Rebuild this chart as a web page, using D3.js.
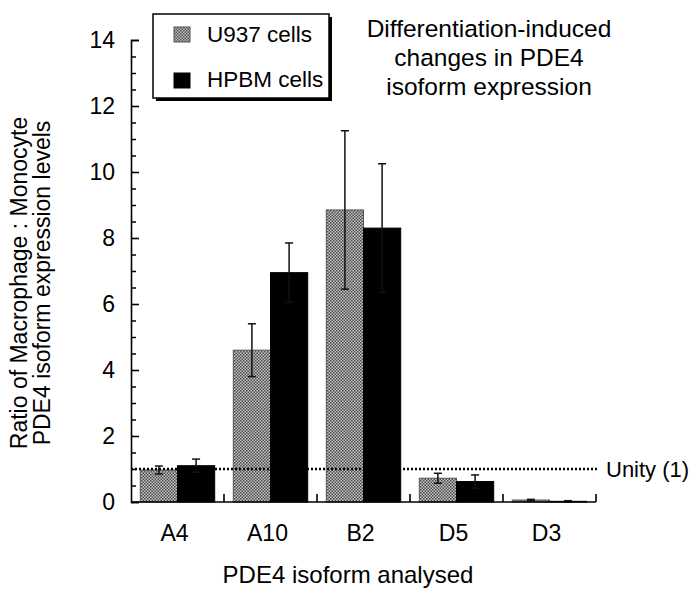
<!DOCTYPE html>
<html>
<head>
<meta charset="utf-8">
<script src="https://cdn.jsdelivr.net/npm/d3@7"></script>
<style>
  html, body { margin: 0; padding: 0; background: #fff; }
  svg { display: block; font-family: "Liberation Sans", Arial, Helvetica, sans-serif; }
</style>
</head>
<body>
<svg id="chart" width="689" height="590"></svg>
<script>
const categories = ["A4", "A10", "B2", "D5", "D3"];
const seriesNames = ["U937 cells", "HPBM cells"];
const u937 = [0.97, 4.6, 8.85, 0.72, 0.06];
const u937Err = [0.12, 0.8, 2.4, 0.15, 0.02];
const hpbm = [1.1, 6.95, 8.3, 0.62, 0.02];
const hpbmErr = [0.2, 0.9, 1.95, 0.2, 0.02];
const yTicks = [0, 2, 4, 6, 8, 10, 12, 14];
const yMinorTicks = [0.5, 1, 1.5, 2.5, 3, 3.5, 4.5, 5, 5.5, 6.5, 7, 7.5, 8.5, 9, 9.5, 10.5, 11, 11.5, 12.5, 13, 13.5];
const unityValue = 1;
const titleLines = ["Differentiation-induced", "changes in PDE4", "isoform expression"];
const yTitleLines = ["Ratio of Macrophage : Monocyte", "PDE4 isoform expression levels"];
const xTitle = "PDE4 isoform analysed";
const unityLabel = "Unity (1)";

const svg = d3.select("#chart");
const defs = svg.append("defs");
const pat = defs.append("pattern").attr("id", "stipple").attr("patternUnits", "userSpaceOnUse")
  .attr("width", 3).attr("height", 3);
pat.append("rect").attr("width", 3).attr("height", 3).attr("fill", "#c4c4c4");
pat.append("rect").attr("x", 0).attr("y", 0).attr("width", 1.5).attr("height", 1.5).attr("fill", "#4a4a4a");
pat.append("rect").attr("x", 1.5).attr("y", 1.5).attr("width", 1.5).attr("height", 1.5).attr("fill", "#4a4a4a");

const x0 = 131, x1 = 596, yTop = 40, yBase = 502;
const x = d3.scaleBand().domain(categories).range([x0, x1]).paddingInner(0.2).paddingOuter(0.1);
const xs = d3.scaleBand().domain(seriesNames).range([0, x.bandwidth()]);
const y = d3.scaleLinear().domain([0, 14]).range([yBase, yTop]);

const data = [];
categories.forEach((c, i) => {
  data.push({cat: c, s: seriesNames[0], v: u937[i], e: u937Err[i]});
  data.push({cat: c, s: seriesNames[1], v: hpbm[i], e: hpbmErr[i]});
});
const fillOf = s => s === seriesNames[0] ? "url(#stipple)" : "#000";

// bars
svg.append("g").selectAll("rect").data(data).join("rect")
  .attr("x", d => x(d.cat) + xs(d.s))
  .attr("y", d => y(d.v))
  .attr("width", xs.bandwidth())
  .attr("height", d => y(0) - y(d.v))
  .attr("fill", d => fillOf(d.s))
  .attr("stroke", d => d.s === seriesNames[0] ? "#555" : "#000")
  .attr("stroke-width", 1);

// error bars
const eb = svg.append("g").attr("stroke", "#111").attr("stroke-width", 1.5);
data.forEach(d => {
  const cx = x(d.cat) + xs(d.s) + xs.bandwidth() / 2;
  eb.append("line").attr("x1", cx).attr("x2", cx).attr("y1", y(d.v + d.e)).attr("y2", y(Math.max(0, d.v - d.e)));
  eb.append("line").attr("x1", cx - 4).attr("x2", cx + 4).attr("y1", y(d.v + d.e)).attr("y2", y(d.v + d.e));
  eb.append("line").attr("x1", cx - 4).attr("x2", cx + 4).attr("y1", y(Math.max(0, d.v - d.e))).attr("y2", y(Math.max(0, d.v - d.e)));
});

// unity line
svg.append("line").attr("x1", x0).attr("x2", x1 + 3).attr("y1", y(unityValue)).attr("y2", y(unityValue))
  .attr("stroke", "#000").attr("stroke-width", 2.5).attr("stroke-dasharray", "2,2");
svg.append("text").attr("x", 606).attr("y", y(unityValue)).attr("dy", "0.36em")
  .attr("font-size", 22).text(unityLabel);

// y axis
const yAxis = svg.append("g").attr("transform", `translate(${x0},0)`)
  .call(d3.axisLeft(y).tickValues(yTicks).tickSize(-8).tickSizeOuter(-8).tickPadding(16).tickFormat(d3.format("d")));
yAxis.selectAll("text").attr("font-size", 23).attr("fill", "#000").attr("font-family", "Liberation Sans, Arial, sans-serif");
yAxis.selectAll("path, line").attr("stroke", "#000").attr("stroke-width", 1.6);
const yMinor = svg.append("g").attr("transform", `translate(${x0},0)`)
  .call(d3.axisLeft(y).tickValues(yMinorTicks).tickSize(-5).tickFormat(""));
yMinor.select(".domain").remove();
yMinor.selectAll("line").attr("stroke", "#000").attr("stroke-width", 1.5);

// x axis
const xAxis = svg.append("g").attr("transform", `translate(0,${yBase})`)
  .call(d3.axisBottom(x).tickSize(0).tickPadding(23));
xAxis.select(".domain").remove();
xAxis.selectAll("text").attr("font-size", 23).attr("fill", "#000").attr("dx", -3).attr("font-family", "Liberation Sans, Arial, sans-serif");
svg.append("line").attr("x1", x0).attr("x2", x1).attr("y1", yBase).attr("y2", yBase).attr("stroke", "#000").attr("stroke-width", 1.6);
const boundaries = categories.slice(1).map(c => x(c) - x.step() * x.paddingInner() / 2).concat([x1]);
svg.append("g").selectAll("line").data(boundaries).join("line")
  .attr("x1", d => d).attr("x2", d => d).attr("y1", yBase).attr("y2", yBase - 8)
  .attr("stroke", "#000").attr("stroke-width", 1.6);

// titles
svg.append("text").attr("x", 348).attr("y", 583).attr("text-anchor", "middle").attr("font-size", 24).text(xTitle);
const yt = svg.append("g").attr("transform", "translate(0,283) rotate(-90)");
yTitleLines.forEach((t, i) => {
  yt.append("text").attr("x", 0).attr("y", 27 + i * 23).attr("text-anchor", "middle").attr("font-size", 23).text(t);
});
titleLines.forEach((t, i) => {
  svg.append("text").attr("x", 489).attr("y", 37 + i * 29).attr("text-anchor", "middle").attr("font-size", 24.5).text(t);
});

// legend
const lg = svg.append("g");
lg.append("rect").attr("x", 156).attr("y", 17).attr("width", 176).attr("height", 84).attr("fill", "#000");
lg.append("rect").attr("x", 153).attr("y", 14).attr("width", 176).attr("height", 84).attr("fill", "#fff").attr("stroke", "#000").attr("stroke-width", 1.5);
seriesNames.forEach((s, i) => {
  lg.append("rect").attr("x", 174).attr("y", 27 + i * 46).attr("width", 16).attr("height", 15)
    .attr("fill", fillOf(s)).attr("stroke", i === 0 ? "#555" : "#000").attr("stroke-width", 1);
  lg.append("text").attr("x", 207).attr("y", 42 + i * 45).attr("font-size", 22.5).text(s);
});
</script>
</body>
</html>
